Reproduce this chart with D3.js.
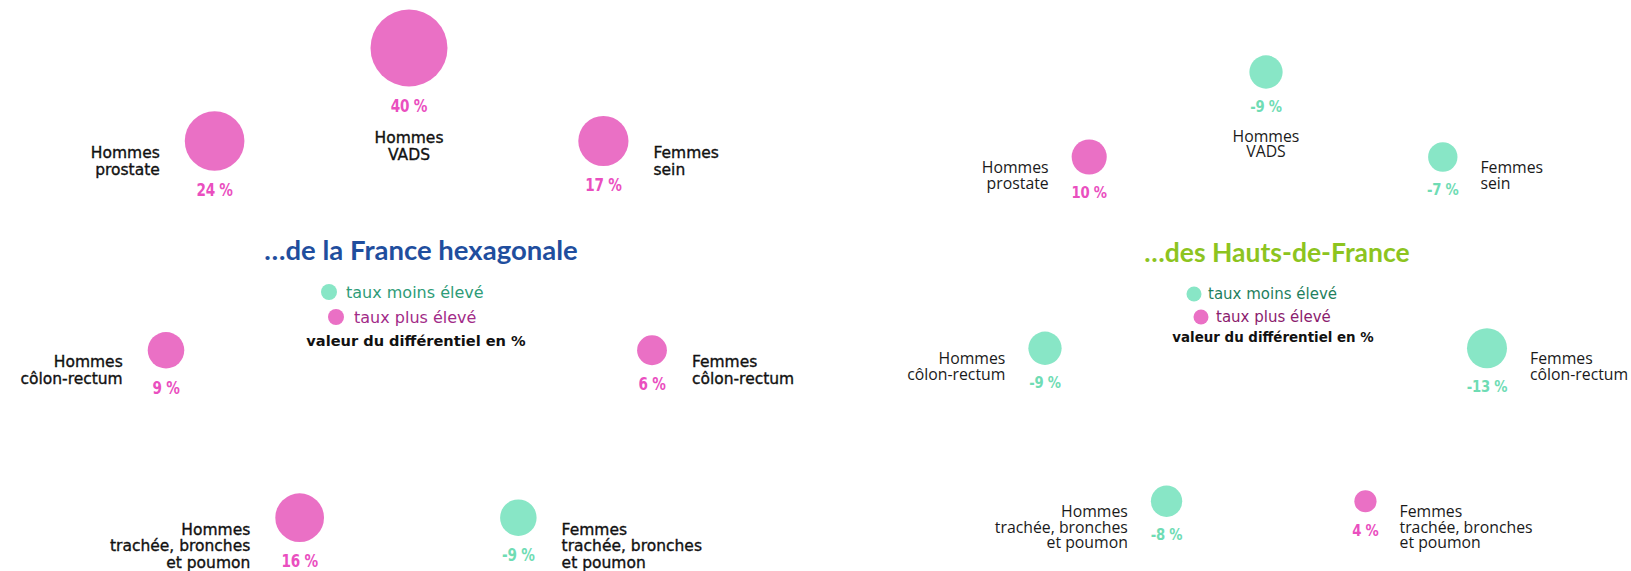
<!DOCTYPE html>
<html lang="fr">
<head>
<meta charset="utf-8">
<title>Différentiel des taux de mortalité par cancer</title>
<script src="https://cdn.jsdelivr.net/npm/d3@7"></script>
<style>
  html, body { margin: 0; padding: 0; background: #fff; }
  svg { display: block; }
</style>
</head>
<body>
<svg id="chart" width="1631" height="571"></svg>
<script>
// Localisations cancéreuses (libellés sur plusieurs lignes)
const categoryLines = [
  ["Hommes", "VADS"],
  ["Hommes", "prostate"],
  ["Femmes", "sein"],
  ["Hommes", "côlon-rectum"],
  ["Femmes", "côlon-rectum"],
  ["Hommes", "trachée, bronches", "et poumon"],
  ["Femmes", "trachée, bronches", "et poumon"]
];

// Différentiel (%) par rapport au taux de référence
const diffFranceHexagonale = [40, 24, 17, 9, 6, 16, -9];
const diffHautsDeFrance    = [-9, 10, -7, -9, -13, -8, 4];

const panelTitles  = ["…de la France hexagonale", "…des Hauts-de-France"];
const legendLabels = ["taux moins élevé", "taux plus élevé", "valeur du différentiel en %"];

// Disposition des bulles autour du titre (unités de grille) et côté du libellé
const slotU    = [0, -0.8, 0.8, -1, 1, -0.45, 0.45];
const slotV    = [0, 1, 1, 3.25, 3.25, 5.05, 5.05];
const slotSide = ["top", "left", "right", "left", "right", "left", "right"];

const COLOR_UP   = "#ea70c5";
const COLOR_DOWN = "#88e6c6";
const TEXT_UP    = "#ea4fbf";
const TEXT_DOWN  = "#6fdcb4";

// Chiffres en gras étroit : police grasse compressée horizontalement
const VALUE_FONT = "'DejaVu Sans', sans-serif";
const VALUE_SQUEEZE = 0.8;

const panels = [
  {
    title: panelTitles[0], values: diffFranceHexagonale,
    cx: 409, y0: 48, xUnit: 243, yUnit: 93,
    rDomain: 40, rMax: 38.5,
    titleColor: "#1f4e9e", titleY: 249, titleDx: 12, titleSize: 27.5,
    gap: 25, lineH: 16.5, firstLine: 12, valueGap: 19.5, vadsGap: 32,
    labelFont: "'DejaVu Sans', Verdana, sans-serif", labelSize: 15.5, labelStroke: 0.35, labelColor: "#111",
    valueSize: 17,
    legend: { dotR: 8, downDot: [-80, 292], downText: -63, upDot: [-73, 317], upText: -55,
              keyY: 340, keyDx: 7, size: 16, keySize: 14.6,
              downColor: "#2e9c78", upColor: "#a22b88" }
  },
  {
    title: panelTitles[1], values: diffHautsDeFrance,
    cx: 1266, y0: 72, xUnit: 221, yUnit: 85,
    rDomain: 13, rMax: 20,
    titleColor: "#8dc41f", titleY: 252, titleDx: 11, titleSize: 26.5,
    gap: 23, lineH: 15.5, firstLine: 10, valueGap: 18, vadsGap: 29,
    labelFont: "'Open Sans', sans-serif", labelSize: 15.8, labelStroke: 0, labelColor: "#1a1a1a",
    valueSize: 16.5,
    legend: { dotR: 7.5, downDot: [-72, 294], downText: -58, upDot: [-65, 317], upText: -50,
              keyY: 337, keyDx: 7, size: 15, keySize: 13.4,
              downColor: "#1f7f5e", upColor: "#8b1c6e" }
  }
];

const svg = d3.select("#chart");
svg.append("rect").attr("width", 1631).attr("height", 571).attr("fill", "#fff");

const fmt = v => `${v} %`;

panels.forEach(p => {
  const g = svg.append("g");
  const x = d3.scaleLinear().domain([-1, 1]).range([p.cx - p.xUnit, p.cx + p.xUnit]);
  const y = d3.scaleLinear().domain([0, 1]).range([p.y0, p.y0 + p.yUnit]);
  const r = d3.scaleSqrt().domain([0, p.rDomain]).range([0, p.rMax]);

  const items = p.values.map((v, i) => ({
    value: v, lines: categoryLines[i], side: slotSide[i],
    x: x(slotU[i]), y: y(slotV[i]), r: r(Math.abs(v))
  }));

  const labelX = d => d.side === "top" ? d.x : d.side === "left" ? d.x - d.r - p.gap : d.x + d.r + p.gap;

  // Bulles
  g.selectAll("circle.bubble").data(items).join("circle")
    .attr("class", "bubble")
    .attr("cx", d => d.x).attr("cy", d => d.y).attr("r", d => d.r)
    .attr("fill", d => d.value >= 0 ? COLOR_UP : COLOR_DOWN);

  // Valeur du différentiel sous chaque bulle
  g.selectAll("text.value").data(items).join("text")
    .attr("class", "value")
    .attr("transform", d => `translate(${d.x},${d.y + d.r + p.valueGap}) scale(${VALUE_SQUEEZE},1)`)
    .attr("text-anchor", "middle").attr("dominant-baseline", "central")
    .attr("font-family", VALUE_FONT)
    .attr("font-weight", "bold").attr("font-size", p.valueSize)
    .attr("letter-spacing", -0.3)
    .attr("fill", d => d.value >= 0 ? TEXT_UP : TEXT_DOWN)
    .text(d => fmt(d.value));

  // Libellés des localisations
  const labels = g.selectAll("text.cat").data(items).join("text")
    .attr("class", "cat")
    .attr("font-family", p.labelFont).attr("font-size", p.labelSize)
    .attr("fill", p.labelColor)
    .attr("stroke", p.labelColor).attr("stroke-width", p.labelStroke)
    .attr("dominant-baseline", "central")
    .attr("text-anchor", d => d.side === "top" ? "middle" : d.side === "left" ? "end" : "start")
    .attr("x", labelX)
    .attr("y", d => d.side === "top" ? d.y + d.r + p.valueGap + p.vadsGap : d.y + p.firstLine);

  labels.selectAll("tspan").data(d => d.lines.map((t, k) => ({ t, k, d }))).join("tspan")
    .attr("x", e => labelX(e.d))
    .attr("dy", e => e.k === 0 ? 0 : p.lineH)
    .text(e => e.t);

  // Titre central
  g.append("text")
    .attr("x", p.cx + p.titleDx).attr("y", p.titleY)
    .attr("text-anchor", "middle").attr("dominant-baseline", "central")
    .attr("font-family", "Lato, 'Open Sans', sans-serif").attr("font-weight", "bold")
    .attr("font-size", p.titleSize).attr("fill", p.titleColor)
    .text(p.title);

  // Légende
  const L = p.legend;
  const legendItems = [
    { dot: L.downDot, tx: L.downText, fill: COLOR_DOWN, color: L.downColor, label: legendLabels[0] },
    { dot: L.upDot,   tx: L.upText,   fill: COLOR_UP,   color: L.upColor,   label: legendLabels[1] }
  ];
  const lg = g.append("g");
  lg.selectAll("circle").data(legendItems).join("circle")
    .attr("cx", d => p.cx + d.dot[0]).attr("cy", d => d.dot[1]).attr("r", L.dotR)
    .attr("fill", d => d.fill);
  lg.selectAll("text.leg").data(legendItems).join("text")
    .attr("class", "leg")
    .attr("x", d => p.cx + d.tx).attr("y", d => d.dot[1])
    .attr("dominant-baseline", "central")
    .attr("font-family", "'DejaVu Sans', Verdana, sans-serif").attr("font-size", L.size)
    .attr("fill", d => d.color)
    .text(d => d.label);
  lg.append("text")
    .attr("x", p.cx + L.keyDx).attr("y", L.keyY)
    .attr("text-anchor", "middle").attr("dominant-baseline", "central")
    .attr("font-family", "'DejaVu Sans', Verdana, sans-serif").attr("font-weight", "bold")
    .attr("font-size", L.keySize).attr("fill", "#111")
    .text(legendLabels[2]);
});
</script>
</body>
</html>
